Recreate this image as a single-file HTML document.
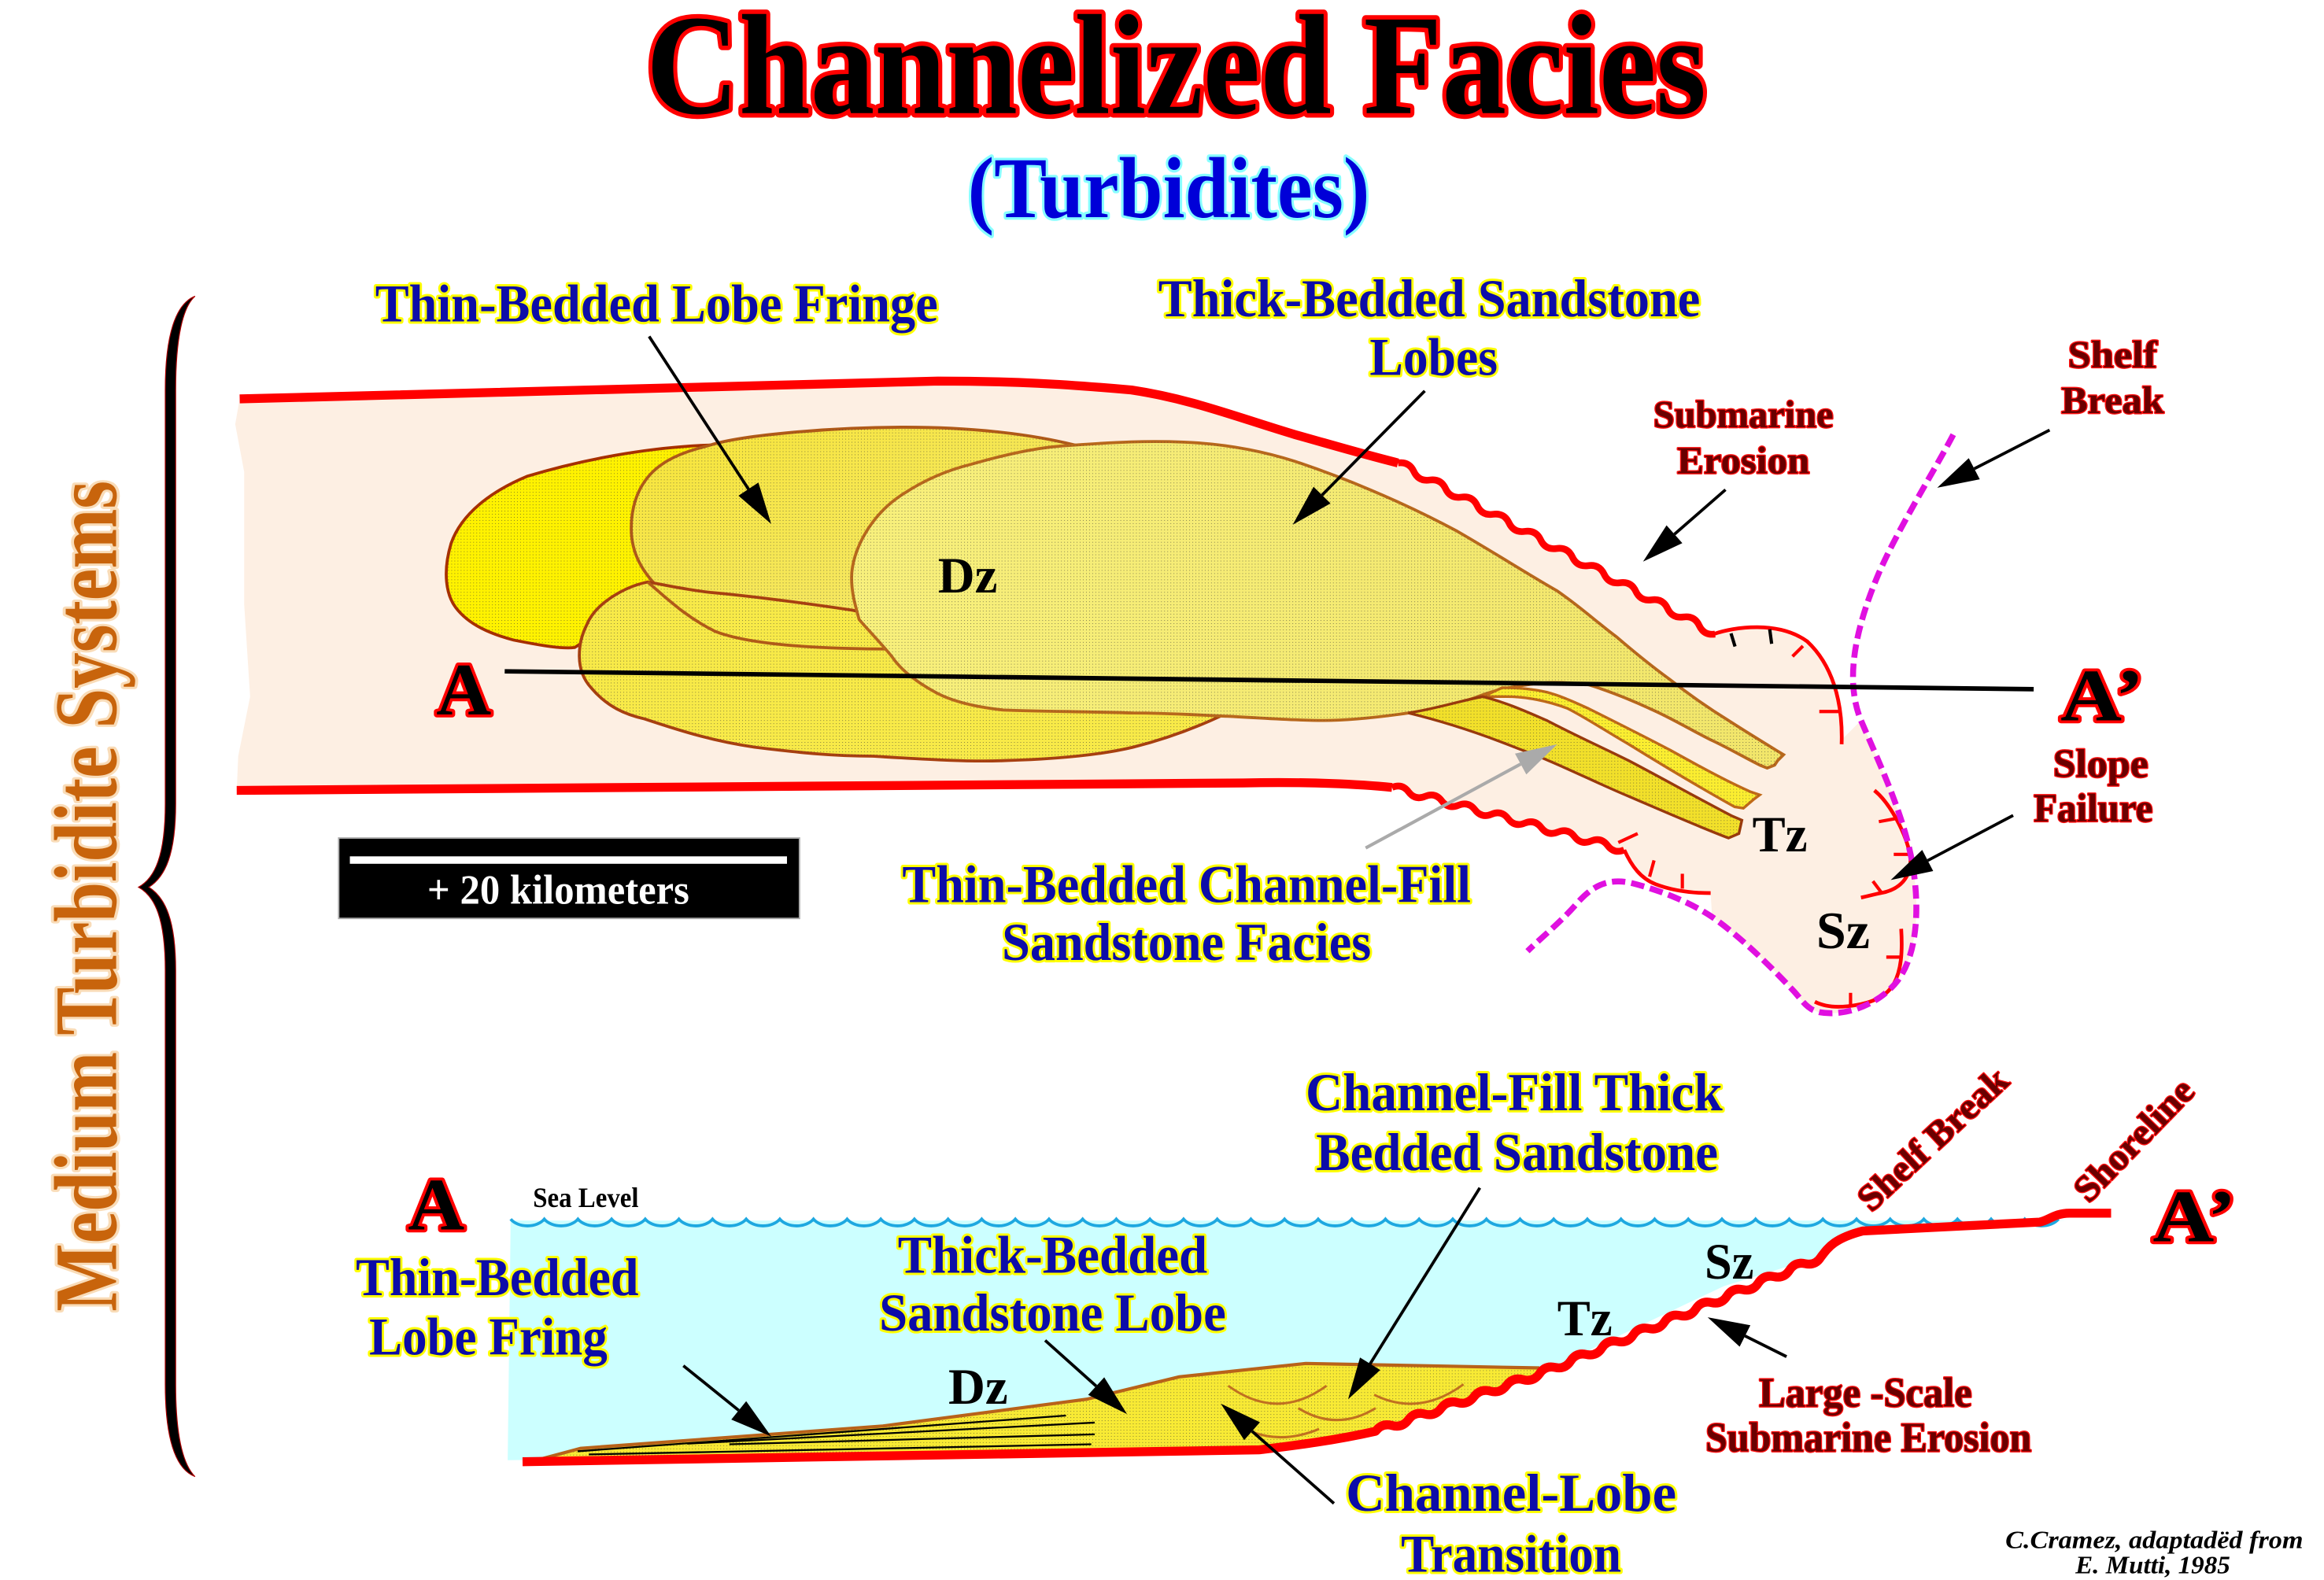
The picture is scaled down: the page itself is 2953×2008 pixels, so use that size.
<!DOCTYPE html>
<html>
<head>
<meta charset="utf-8">
<style>
  html,body{margin:0;padding:0;background:#fff;}
  svg{display:block;}
  text{font-family:"Liberation Serif","Times New Roman",serif;font-weight:bold;}
  .blue{fill:#0c0ca8;stroke:#ffff00;stroke-width:3.2;paint-order:stroke;stroke-linejoin:round;}
  .mar{fill:#6a0000;stroke:#ff1010;stroke-width:1.4;paint-order:stroke;stroke-linejoin:round;}
  .lab{fill:#000;stroke:#ff0000;stroke-width:4;paint-order:stroke;stroke-linejoin:round;}
  .zone{fill:#000;}
</style>
</head>
<body>
<svg xmlns="http://www.w3.org/2000/svg" width="2953" height="2008" viewBox="0 0 1561 1061.46" preserveAspectRatio="none">
  <defs>
    <pattern id="dots" width="2.1" height="2.1" patternUnits="userSpaceOnUse">
      <circle cx="1" cy="1" r="0.24" fill="#333"/>
    </pattern>
    <linearGradient id="g3" x1="0" y1="0" x2="1" y2="0">
      <stop offset="0" stop-color="#f8f07c"/>
      <stop offset="1" stop-color="#f2e66a"/>
    </linearGradient>
    <linearGradient id="g2" x1="0" y1="0" x2="1" y2="1">
      <stop offset="0" stop-color="#f8e638"/>
      <stop offset="1" stop-color="#f4e878"/>
    </linearGradient>
  </defs>

  <rect x="0" y="0" width="1561" height="1062" fill="#fff"/>

  <!-- Title -->
  <text x="790" y="76" text-anchor="middle" font-size="96" textLength="712" lengthAdjust="spacingAndGlyphs" fill="#000" stroke="#ff0000" stroke-width="6" paint-order="stroke" stroke-linejoin="round">Channelized Facies</text>
  <text x="785" y="146" text-anchor="middle" font-size="58" textLength="270" lengthAdjust="spacingAndGlyphs" fill="#0000d8" stroke="#88ffff" stroke-width="3.5" paint-order="stroke" stroke-linejoin="round">(Turbidites)</text>

  <!-- Left vertical text -->
  <text transform="translate(78,881) rotate(-90)" x="0" y="0" font-size="60" textLength="558" lengthAdjust="spacingAndGlyphs" fill="#c8640c" stroke="#f9dcb8" stroke-width="4" paint-order="stroke" stroke-linejoin="round">Medium Turbidite Systems</text>

  <!-- Brace -->
  <path d="M131,199 C118,204 111,225 111,262 L111,540 C111,575 104,590 93,596 C104,602 111,617 111,652 L111,930 C111,967 118,987 131,992 C123,984 118,965 118,930 L118,652 C118,618 111,603 100,596 C111,589 118,574 118,540 L118,262 C118,226 123,206 131,199 Z" fill="#000" stroke="#b00000" stroke-width="0.6"/>

  <!-- ===== Upper plan view ===== -->
  <path d="M161,268 L630,256 C680,256 715,258 760,262 C800,268 830,280 870,292 C895,299 915,305 939,311 L1152,426 C1165,421 1195,417 1214,431 C1230,446 1238,470 1237,497 L1250,484 C1262,512 1280,550 1285,583 C1290,615 1287,648 1270,664 C1258,676 1238,683 1222,680 C1214,678 1212,674 1205,666 C1190,650 1170,630 1150,616 L1149,600 C1138,600 1125,599 1112,594 C1102,590 1096,582 1091,571 L935,529 C915,527 880,525 835,526 L159,531 L160,508 L168,468 L164,406 L164,317 L158,285 Z" fill="#fdefe3"/>

  <!-- Lobe 1 -->
  <path d="M477,299 C445,300 400,306 354,320 C330,330 310,345 303,365 C297,385 300,400 306,408 C315,420 330,426 345,430 C365,434 378,436 386,435 L440,400 L470,330 Z" fill="#fff200" stroke="#a83000" stroke-width="2"/>
  <path d="M477,299 C445,300 400,306 354,320 C330,330 310,345 303,365 C297,385 300,400 306,408 C315,420 330,426 345,430 C365,434 378,436 386,435 L440,400 L470,330 Z" fill="url(#dots)"/>

  <!-- Lobe 2 -->
  <path d="M477,299 C500,292 560,287 608,287 C650,287 690,291 722,299 L760,420 L600,436 C560,437 520,436 498,431 C475,424 458,412 448,400 C430,385 424,370 424,355 C424,335 432,320 446,311 C455,305 466,302 477,299 Z" fill="url(#g2)" stroke="#b05a18" stroke-width="2"/>
  <path d="M477,299 C500,292 560,287 608,287 C650,287 690,291 722,299 L760,420 L600,436 C560,437 520,436 498,431 C475,424 458,412 448,400 C430,385 424,370 424,355 C424,335 432,320 446,311 C455,305 466,302 477,299 Z" fill="url(#dots)"/>

  <!-- Lower lobe -->
  <path d="M435,391 C420,394 400,405 394,420 C388,432 386,450 397,462 C408,475 420,480 433,483 C460,492 480,498 507,502 C540,506 560,508 586,508 C620,510 650,512 674,511 C710,510 740,507 761,502 C785,496 805,488 820,481 L700,440 L573,410 C540,405 500,400 477,398 C460,396 447,393 435,391 Z" fill="#f8ea48" stroke="#a84010" stroke-width="2"/>
  <path d="M435,391 C420,394 400,405 394,420 C388,432 386,450 397,462 C408,475 420,480 433,483 C460,492 480,498 507,502 C540,506 560,508 586,508 C620,510 650,512 674,511 C710,510 740,507 761,502 C785,496 805,488 820,481 L700,440 L573,410 C540,405 500,400 477,398 C460,396 447,393 435,391 Z" fill="url(#dots)"/>
  <path d="M435,391 C448,402 460,414 480,424 C500,432 540,436 600,436" fill="none" stroke="#b05a18" stroke-width="2"/>

  <!-- Lobe 3 -->
  <path d="M572,388 C572,370 585,345 608,331 C625,320 640,315 652,312 C680,304 700,300 722,299 C750,297 770,296 795,297 C820,298 845,302 870,310 C900,320 940,336 979,357 C1005,372 1025,385 1046,397 C1062,408 1075,420 1086,428 C1100,440 1110,448 1121,456 C1135,467 1148,476 1161,484 C1175,493 1185,499 1193,504 L1198,507 L1194,511 L1192,514 L1187,516 L1182,514 C1170,508 1160,502 1149,497 C1135,490 1122,482 1108,476 C1095,470 1080,464 1067,460 C1050,458 1038,458 1026,460 C1010,462 1000,465 990,469 C975,474 960,477 946,479 C925,482 905,484 889,484 C865,484 845,482 820,481 C800,480 780,479 761,479 C730,478 700,478 674,477 C655,475 640,471 630,466 C615,458 605,450 599,441 C590,430 580,420 577,416 C574,405 572,398 572,388 Z" fill="url(#g3)" stroke="#b8681c" stroke-width="2"/>
  <path d="M572,388 C572,370 585,345 608,331 C625,320 640,315 652,312 C680,304 700,300 722,299 C750,297 770,296 795,297 C820,298 845,302 870,310 C900,320 940,336 979,357 C1005,372 1025,385 1046,397 C1062,408 1075,420 1086,428 C1100,440 1110,448 1121,456 C1135,467 1148,476 1161,484 C1175,493 1185,499 1193,504 L1198,507 L1194,511 L1192,514 L1187,516 L1182,514 C1170,508 1160,502 1149,497 C1135,490 1122,482 1108,476 C1095,470 1080,464 1067,460 C1050,458 1038,458 1026,460 C1010,462 1000,465 990,469 C975,474 960,477 946,479 C925,482 905,484 889,484 C865,484 845,482 820,481 C800,480 780,479 761,479 C730,478 700,478 674,477 C655,475 640,471 630,466 C615,458 605,450 599,441 C590,430 580,420 577,416 C574,405 572,398 572,388 Z" fill="url(#dots)"/>

  <!-- middle finger -->
  <path d="M1009,462 C1020,462 1030,463 1039,465 C1050,468 1058,472 1067,476 C1085,485 1105,495 1122,504 C1140,514 1160,525 1176,532 L1182,534 L1178,537 L1171,543 L1165,542 C1140,528 1115,513 1094,500 C1080,492 1065,482 1053,476 C1040,471 1025,468 1012,468 L996,468 Z" fill="#fbee30" stroke="#c06a18" stroke-width="1.8"/>
  <path d="M1009,462 C1020,462 1030,463 1039,465 C1050,468 1058,472 1067,476 C1085,485 1105,495 1122,504 C1140,514 1160,525 1176,532 L1182,534 L1178,537 L1171,543 L1165,542 C1140,528 1115,513 1094,500 C1080,492 1065,482 1053,476 C1040,471 1025,468 1012,468 L996,468 Z" fill="url(#dots)"/>
  <!-- bottom finger -->
  <path d="M946,479 C965,476 980,471 996,468 C1012,472 1025,478 1039,484 C1058,494 1078,503 1094,511 C1115,522 1140,536 1163,548 L1170,551 L1168,560 L1161,563 C1140,555 1115,544 1094,535 C1070,525 1045,512 1020,503 C1000,495 975,486 946,479 Z" fill="#f2e02a" stroke="#9a3a0c" stroke-width="1.8"/>
  <path d="M946,479 C965,476 980,471 996,468 C1012,472 1025,478 1039,484 C1058,494 1078,503 1094,511 C1115,522 1140,536 1163,548 L1170,551 L1168,560 L1161,563 C1140,555 1115,544 1094,535 C1070,525 1045,512 1020,503 C1000,495 975,486 946,479 Z" fill="url(#dots)"/>

  <!-- red boundaries -->
  <path d="M161,268 L630,256 C680,256 715,258 760,262 C800,268 830,280 870,292 C895,299 915,305 939,311" fill="none" stroke="#ff0000" stroke-width="6" stroke-linecap="butt"/>
  <path d="M939,311 q7.46,-1.09 10.65,5.75 t10.65,5.75 t10.65,5.75 t10.65,5.75 t10.65,5.75 t10.65,5.75 t10.65,5.75 t10.65,5.75 t10.65,5.75 t10.65,5.75 t10.65,5.75 t10.65,5.75 t10.65,5.75 t10.65,5.75 t10.65,5.75 t10.65,5.75 t10.65,5.75 t10.65,5.75 t10.65,5.75 t10.65,5.75" fill="none" stroke="#ff0000" stroke-width="4.5" stroke-linejoin="round"/>
  <path d="M159,531 L835,526 C880,525 915,527 935,529" fill="none" stroke="#ff0000" stroke-width="6"/>
  <path d="M935,529 q6.74,-2.85 11.14,3 t11.14,3 t11.14,3 t11.14,3 t11.14,3 t11.14,3 t11.14,3 t11.14,3 t11.14,3 t11.14,3 t11.14,3 t11.14,3 t11.14,3 t11.14,3" fill="none" stroke="#ff0000" stroke-width="4.5" stroke-linejoin="round"/>

  <!-- scarps -->
  <path d="M1151,426 C1165,421 1195,417 1214,431 C1230,446 1238,470 1237,500" fill="none" stroke="#ff0000" stroke-width="2.5"/>
  <line x1="1162.7" y1="425.5" x2="1165.4" y2="434.3" stroke="#000" stroke-width="2.2"/>
  <line x1="1188.7" y1="422.8" x2="1190" y2="432.5" stroke="#000" stroke-width="2.2"/>
  <line x1="1211" y1="434" x2="1204" y2="441" stroke="#ff0000" stroke-width="2.2"/>
  <line x1="1235" y1="478" x2="1222" y2="478" stroke="#ff0000" stroke-width="2.2"/>

  <path d="M1091,571 C1096,582 1102,590 1112,594 C1125,599 1138,600 1149,600" fill="none" stroke="#ff0000" stroke-width="2.5"/>
  <line x1="1087" y1="566" x2="1100" y2="560" stroke="#ff0000" stroke-width="2.2"/>
  <line x1="1108" y1="589" x2="1111" y2="578" stroke="#ff0000" stroke-width="2.2"/>
  <line x1="1130" y1="597" x2="1130" y2="587" stroke="#ff0000" stroke-width="2.2"/>

  <path d="M1259,531 C1270,540 1280,560 1283,574 C1285,590 1275,598 1263,600 C1258,601 1255,602 1250,603" fill="none" stroke="#ff0000" stroke-width="2.5"/>
  <line x1="1273" y1="550" x2="1262" y2="552" stroke="#ff0000" stroke-width="2.2"/>
  <line x1="1283" y1="574" x2="1272" y2="574" stroke="#ff0000" stroke-width="2.2"/>
  <line x1="1264" y1="600" x2="1258" y2="592" stroke="#ff0000" stroke-width="2.2"/>
  <path d="M1277,624 C1278,640 1277,652 1272,661 C1268,668 1260,674 1241,676 C1232,677 1225,676 1219,673" fill="none" stroke="#ff0000" stroke-width="2.5"/>
  <line x1="1277" y1="643" x2="1267" y2="643" stroke="#ff0000" stroke-width="2.2"/>
  <line x1="1243" y1="676" x2="1243" y2="667" stroke="#ff0000" stroke-width="2.2"/>

  <!-- magenta dashed -->
  <path d="M1312,292 C1300,315 1275,355 1262,385 C1248,418 1238,455 1250,484 C1262,512 1280,550 1285,583 C1290,615 1287,648 1270,664 C1258,676 1238,683 1222,680 C1214,678 1212,674 1205,666 C1190,650 1170,630 1150,616 C1135,606 1115,598 1095,593 C1080,590 1070,595 1060,606 C1048,620 1035,630 1026,639" fill="none" stroke="#e010e0" stroke-width="4" stroke-dasharray="9 4"/>

  <!-- A-A' line -->
  <line x1="339" y1="451" x2="1366" y2="463" stroke="#000" stroke-width="3"/>

  <!-- upper arrows -->
  <g stroke="#000" stroke-width="2" fill="#000">
    <line x1="436" y1="226" x2="503" y2="329"/>
    <polygon points="518,352 496,333 509.4,324.2" stroke="none"/>
    <line x1="957" y1="262.6" x2="888" y2="332.6"/>
    <polygon points="868.3,352.5 882.3,327 893.7,338.2" stroke="none"/>
    <line x1="1159" y1="329" x2="1124.7" y2="358.9"/>
    <polygon points="1103.6,377.3 1119.4,352.9 1130,364.9" stroke="none"/>
    <line x1="1376.7" y1="288.9" x2="1326.1" y2="314.9"/>
    <polygon points="1301.2,327.7 1322.4,307.8 1329.8,322" stroke="none"/>
    <line x1="1352.2" y1="547.8" x2="1294.8" y2="578.1"/>
    <polygon points="1270,591.2 1291.1,571 1298.5,585.2" stroke="none"/>
  </g>
  <g stroke="#aaaaaa" stroke-width="2.2" fill="#aaaaaa">
    <line x1="917.3" y1="569.7" x2="1021.4" y2="513.3"/>
    <polygon points="1046,500 1025.2,520.3 1017.6,506.3" stroke="none"/>
  </g>

  <!-- upper labels -->
  <text class="blue" x="441" y="216" text-anchor="middle" font-size="36" textLength="378" lengthAdjust="spacingAndGlyphs">Thin-Bedded Lobe Fringe</text>
  <text class="blue" x="960" y="212.5" text-anchor="middle" font-size="36" textLength="364" lengthAdjust="spacingAndGlyphs">Thick-Bedded Sandstone</text>
  <text class="blue" x="963" y="252" text-anchor="middle" font-size="36" textLength="86" lengthAdjust="spacingAndGlyphs">Lobes</text>
  <text class="blue" x="797" y="606" text-anchor="middle" font-size="36" textLength="382" lengthAdjust="spacingAndGlyphs">Thin-Bedded Channel-Fill</text>
  <text class="blue" x="797" y="645" text-anchor="middle" font-size="36" textLength="248" lengthAdjust="spacingAndGlyphs">Sandstone Facies</text>

  <text class="mar" x="1171" y="287" text-anchor="middle" font-size="26" textLength="121" lengthAdjust="spacingAndGlyphs">Submarine</text>
  <text class="mar" x="1171" y="318" text-anchor="middle" font-size="26" textLength="89" lengthAdjust="spacingAndGlyphs">Erosion</text>
  <text class="mar" x="1419" y="247" text-anchor="middle" font-size="26" textLength="60" lengthAdjust="spacingAndGlyphs">Shelf</text>
  <text class="mar" x="1419" y="277.5" text-anchor="middle" font-size="26" textLength="69" lengthAdjust="spacingAndGlyphs">Break</text>
  <text class="mar" x="1411" y="522" text-anchor="middle" font-size="27" textLength="64" lengthAdjust="spacingAndGlyphs">Slope</text>
  <text class="mar" x="1406" y="552" text-anchor="middle" font-size="27" textLength="80" lengthAdjust="spacingAndGlyphs">Failure</text>

  <text class="zone" x="630" y="398" font-size="34" textLength="40" lengthAdjust="spacingAndGlyphs">Dz</text>
  <text class="zone" x="1177" y="572" font-size="34" textLength="37" lengthAdjust="spacingAndGlyphs">Tz</text>
  <text class="zone" x="1220" y="637" font-size="35" textLength="36" lengthAdjust="spacingAndGlyphs">Sz</text>

  <text class="lab" x="293" y="480" font-size="50" textLength="37" lengthAdjust="spacingAndGlyphs">A</text>
  <text class="lab" x="1384" y="484" font-size="50" textLength="56" lengthAdjust="spacingAndGlyphs">A’</text>

  <!-- scale bar -->
  <rect x="227.5" y="563" width="309.5" height="54" fill="#000" stroke="#aaaaaa" stroke-width="1"/>
  <rect x="235" y="575.3" width="293.6" height="5" fill="#fff"/>
  <text x="287" y="607" font-size="28" textLength="176" lengthAdjust="spacingAndGlyphs" fill="#fff">+ 20 kilometers</text>

  <!-- ===== Lower cross-section ===== -->
  <path d="M343,820 L1388,820 L1370,821 L1251,827 L1223,844 L1158,864 L1103,890 L1034,923 L924,961 L846,974 L341,981 Z" fill="#ccffff"/>
  <path d="M343,819 a13,9 0 0 0 22.6,0 a13,9 0 0 0 22.6,0 a13,9 0 0 0 22.6,0 a13,9 0 0 0 22.6,0 a13,9 0 0 0 22.6,0 a13,9 0 0 0 22.6,0 a13,9 0 0 0 22.6,0 a13,9 0 0 0 22.6,0 a13,9 0 0 0 22.6,0 a13,9 0 0 0 22.6,0 a13,9 0 0 0 22.6,0 a13,9 0 0 0 22.6,0 a13,9 0 0 0 22.6,0 a13,9 0 0 0 22.6,0 a13,9 0 0 0 22.6,0 a13,9 0 0 0 22.6,0 a13,9 0 0 0 22.6,0 a13,9 0 0 0 22.6,0 a13,9 0 0 0 22.6,0 a13,9 0 0 0 22.6,0 a13,9 0 0 0 22.6,0 a13,9 0 0 0 22.6,0 a13,9 0 0 0 22.6,0 a13,9 0 0 0 22.6,0 a13,9 0 0 0 22.6,0 a13,9 0 0 0 22.6,0 a13,9 0 0 0 22.6,0 a13,9 0 0 0 22.6,0 a13,9 0 0 0 22.6,0 a13,9 0 0 0 22.6,0 a13,9 0 0 0 22.6,0 a13,9 0 0 0 22.6,0 a13,9 0 0 0 22.6,0 a13,9 0 0 0 22.6,0 a13,9 0 0 0 22.6,0 a13,9 0 0 0 22.6,0 a13,9 0 0 0 22.6,0 a13,9 0 0 0 22.6,0 a13,9 0 0 0 22.6,0 a13,9 0 0 0 22.6,0 a13,9 0 0 0 22.6,0 a13,9 0 0 0 22.6,0 a13,9 0 0 0 22.6,0 a13,9 0 0 0 22.6,0 a13,9 0 0 0 22.6,0 a13,9 0 0 0 22.6,0" fill="none" stroke="#1ea8e0" stroke-width="2"/>

  <!-- lower lobe -->
  <path d="M366,979 L390,973 L593,958 L730,940 L792,925 L877,916 L1034,919 L1034,923 L924,961 L846,974 L366,980 Z" fill="#f8ea34" stroke="none"/>
  <path d="M366,979 L390,973 L593,958 L730,940 L792,925 L877,916 L1034,919 L1034,923 L924,961 L846,974 L366,980 Z" fill="url(#dots)"/>
  <path d="M364,980 L390,973 L593,958 L730,940 L792,925 L877,916 L1034,919" fill="none" stroke="#b8621a" stroke-width="2.2"/>
  <g stroke="#000" stroke-width="1.2">
    <line x1="388" y1="975" x2="716" y2="951"/>
    <line x1="461.6" y1="969.9" x2="735.3" y2="955.7"/>
    <line x1="489.9" y1="970.3" x2="735.3" y2="963.6"/>
    <line x1="395.5" y1="977.1" x2="733" y2="970.3"/>
  </g>
  <g fill="none" stroke="#c07020" stroke-width="1.6">
    <path d="M825,931 Q858,955 891,931"/>
    <path d="M872,946 Q898,962 924,946"/>
    <path d="M841,962 Q862,970 886,960"/>
    <path d="M923,937 Q953,952 983,930"/>
  </g>

  <!-- seafloor -->
  <path d="M351,982 L846,974 C870,971 895,968 924,961.5 q4.18,-5.7 11,-3.85 t11,-3.85 t11,-3.85 t11,-3.85 t11,-3.85 t11,-3.85 t11,-3.85 t11,-3.85 t11,-3.85 t11,-3.85 q3.72,-5.88 10.5,-4.356 t10.5,-4.356 t10.5,-4.356 t10.5,-4.356 t10.5,-4.356 t10.5,-4.356 t10.5,-4.356 t10.5,-4.356 t10.5,-4.356 t10.5,-4.356 t10.5,-4.356 t10.5,-4.356 t10.5,-4.356 t10.5,-4.356 t10.5,-4.356 t10.5,-4.356 t10.5,-4.356 t10.5,-4.356 C1228,838 1232,832 1251,827 L1370,821 C1376,820 1380,815 1390,815 L1418,815" fill="none" stroke="#ff0000" stroke-width="6" stroke-linejoin="round"/>

  <!-- lower arrows -->
  <g stroke="#000" stroke-width="2" fill="#000">
    <line x1="459" y1="917.5" x2="496.2" y2="947.5"/>
    <polygon points="518,965 491.2,953.7 501.2,941.3" stroke="none"/>
    <line x1="702" y1="900.5" x2="736.3" y2="931.2"/>
    <polygon points="757,950 730.9,937.1 741.7,925.3" stroke="none"/>
    <line x1="994" y1="798" x2="920.3" y2="916.2"/>
    <polygon points="905.5,940 913.5,912 927.1,920.4" stroke="none"/>
    <line x1="896" y1="1010" x2="841" y2="961.5"/>
    <polygon points="820,943 846.3,955.5 835.7,967.5" stroke="none"/>
    <line x1="1200" y1="911.4" x2="1172.1" y2="897.5"/>
    <polygon points="1147,885 1175.7,890.3 1168.5,904.7" stroke="none"/>
  </g>

  <!-- lower labels -->
  <text class="lab" x="274" y="826" font-size="50" textLength="38" lengthAdjust="spacingAndGlyphs">A</text>
  <text class="lab" x="1446" y="834" font-size="50" textLength="56" lengthAdjust="spacingAndGlyphs">A’</text>
  <text x="358" y="811" font-size="19" textLength="71" lengthAdjust="spacingAndGlyphs" fill="#000">Sea Level</text>

  <text class="blue" x="334" y="870" text-anchor="middle" font-size="36" textLength="190" lengthAdjust="spacingAndGlyphs">Thin-Bedded</text>
  <text class="blue" x="328" y="910" text-anchor="middle" font-size="36" textLength="160" lengthAdjust="spacingAndGlyphs">Lobe Fring</text>
  <text class="blue" x="707" y="855" text-anchor="middle" font-size="36" textLength="208" lengthAdjust="spacingAndGlyphs">Thick-Bedded</text>
  <text class="blue" x="707" y="894" text-anchor="middle" font-size="36" textLength="233" lengthAdjust="spacingAndGlyphs">Sandstone Lobe</text>
  <text class="blue" x="1017" y="746" text-anchor="middle" font-size="36" textLength="280" lengthAdjust="spacingAndGlyphs">Channel-Fill Thick</text>
  <text class="blue" x="1019" y="786" text-anchor="middle" font-size="36" textLength="270" lengthAdjust="spacingAndGlyphs">Bedded Sandstone</text>
  <text class="blue" x="1015" y="1015" text-anchor="middle" font-size="36" textLength="222" lengthAdjust="spacingAndGlyphs">Channel-Lobe</text>
  <text class="blue" x="1015" y="1056" text-anchor="middle" font-size="36" textLength="148" lengthAdjust="spacingAndGlyphs">Transition</text>

  <text class="zone" x="637" y="943" font-size="34" textLength="40" lengthAdjust="spacingAndGlyphs">Dz</text>
  <text class="zone" x="1046" y="897" font-size="34" textLength="37" lengthAdjust="spacingAndGlyphs">Tz</text>
  <text class="zone" x="1145" y="859" font-size="34" textLength="33" lengthAdjust="spacingAndGlyphs">Sz</text>

  <text class="mar" x="1253" y="945" text-anchor="middle" font-size="28" textLength="143" lengthAdjust="spacingAndGlyphs">Large -Scale</text>
  <text class="mar" x="1255" y="975" text-anchor="middle" font-size="28" textLength="219" lengthAdjust="spacingAndGlyphs">Submarine Erosion</text>

  <text class="mar" transform="translate(1257,815) rotate(-43)" x="0" y="0" font-size="25" textLength="128" lengthAdjust="spacingAndGlyphs">Shelf Break</text>
  <text class="mar" transform="translate(1403,809) rotate(-46)" x="0" y="0" font-size="25" textLength="104" lengthAdjust="spacingAndGlyphs">Shoreline</text>

  <!-- credit -->
  <text x="1447" y="1040" text-anchor="middle" font-size="17" font-style="italic" textLength="200" lengthAdjust="spacingAndGlyphs" fill="#000">C.Cramez, adaptadëd from</text>
  <text x="1446" y="1057" text-anchor="middle" font-size="17" font-style="italic" textLength="104" lengthAdjust="spacingAndGlyphs" fill="#000">E. Mutti, 1985</text>
</svg>
</body>
</html>
